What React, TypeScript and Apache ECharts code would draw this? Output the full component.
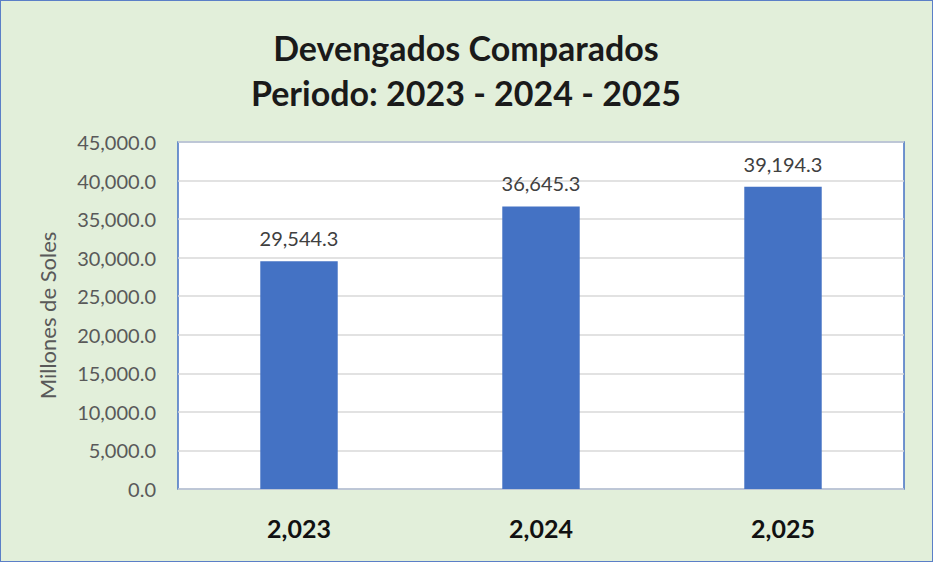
import React, { useEffect, useRef } from "react";
import * as echarts from "echarts";

const categories = ["2,023", "2,024", "2,025"];
const values = [29544.3, 36645.3, 39194.3];
const titleLines = ["Devengados Comparados", "Periodo: 2023 - 2024 - 2025"];
const yAxisName = "Millones de Soles";

const fmt = (v: number) =>
  v.toLocaleString("en-US", { minimumFractionDigits: 1, maximumFractionDigits: 1 });

export default function App() {
  const ref = useRef<HTMLDivElement>(null);
  useEffect(() => {
    const chart = echarts.init(ref.current!, null, { renderer: "svg" });
    chart.setOption({
      animation: false,
      backgroundColor: "#e2efda",
      title: {
        text: titleLines.join("\n"),
        left: "center",
        top: 19,
        textStyle: {
          fontFamily: "Lato, sans-serif",
          fontWeight: "bold",
          fontSize: 34,
          lineHeight: 45,
          color: "#1a1a1a",
        },
      },
      grid: {
        left: 177,
        right: 27,
        top: 141,
        bottom: 71,
        show: true,
        backgroundColor: "#ffffff",
        borderColor: "#4472c4",
        borderWidth: 1.5,
      },
      xAxis: {
        type: "category",
        data: categories,
        axisLine: { show: false },
        axisTick: { show: false },
        axisLabel: {
          margin: 26,
          fontFamily: "Lato, sans-serif",
          fontWeight: "bold",
          fontSize: 25,
          color: "#111111",
        },
      },
      yAxis: {
        type: "value",
        min: 0,
        max: 45000,
        interval: 5000,
        name: yAxisName,
        nameLocation: "middle",
        nameGap: 120,
        nameTextStyle: {
          fontFamily: "Lato, sans-serif",
          fontSize: 22,
          color: "#595959",
        },
        axisLine: { show: false },
        axisTick: { show: false },
        splitLine: { lineStyle: { color: "#d9d9d9", width: 1.5 } },
        axisLabel: {
          margin: 22,
          formatter: (v: number) => fmt(v),
          fontFamily: "Lato, sans-serif",
          fontSize: 20,
          color: "#595959",
        },
      },
      series: [
        {
          type: "bar",
          data: values,
          barWidth: "32%",
          itemStyle: { color: "#4472c4" },
          label: {
            show: true,
            position: "top",
            distance: 13,
            formatter: (p: any) => fmt(p.value),
            fontFamily: "Lato, sans-serif",
            fontSize: 20,
            color: "#404040",
          },
        },
      ],
    });
    return () => chart.dispose();
  }, []);
  return (
    <div
      style={{
        position: "fixed",
        left: 0,
        top: 0,
        width: 933,
        height: 562,
        boxSizing: "border-box",
        border: "1.5px solid #5b7fc7",
        background: "#e2efda",
      }}
    >
      <div ref={ref} style={{ width: 930, height: 559 }} />
    </div>
  );
}
